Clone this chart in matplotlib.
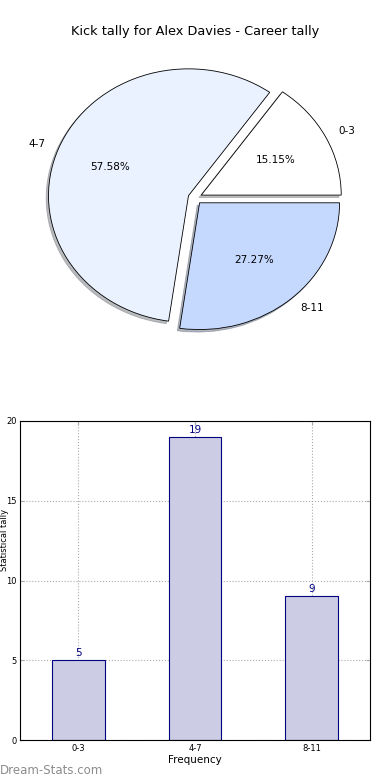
import matplotlib
matplotlib.use("Agg")
import matplotlib.pyplot as plt

categories = ["0-3", "4-7", "8-11"]
counts = [5, 19, 9]
pie_colors = ["#FFFFFF", "#EAF1FF", "#C5D9FF"]
title = "Kick tally for Alex Davies - Career tally"

plt.rcParams['font.family'] = ['DejaVu Sans']

fig = plt.figure(figsize=(3.9, 7.8), dpi=100)

# Pie chart
ax1 = fig.add_axes([20/390, 1 - 356.5/780, 350/390, 317/780])
wedges, texts, autotexts = ax1.pie(
    counts, labels=categories, colors=pie_colors, explode=[0.05]*3,
    autopct='%1.2f%%', shadow={'ox': -0.012, 'oy': -0.014, 'shade': 0.5},
    startangle=0,
    wedgeprops=dict(edgecolor='black', linewidth=0.6),
    textprops=dict(fontsize=7.5))
ax1.set_aspect('auto')
ax1.set_xlim(-1.25, 1.25)
ax1.set_ylim(-1.25, 1.25)
ax1.set_title(title, fontsize=9.3, pad=3)

# Bar chart
ax2 = fig.add_axes([20/390, 40/780, 350/390, 319/780])
x = list(range(len(categories)))
bars = ax2.bar(x, counts, width=0.45, color='#CCCCE5', edgecolor='#000080', linewidth=0.8, zorder=2)
for xi, v in zip(x, counts):
    ax2.text(xi, v + 0.15, str(v), ha='center', va='bottom', color='#000080', fontsize=7.5)
ax2.set_xlim(-0.5, 2.5)
ax2.set_ylim(0, 20)
ax2.set_xticks(x)
ax2.set_xticklabels(categories)
ax2.set_yticks([0, 5, 10, 15, 20])
ax2.tick_params(axis='both', labelsize=6, direction='in', length=3, color='#aaaaaa', top=True, right=True, pad=3)
ax2.tick_params(axis='y', pad=2.5)
ax2.grid(True, linestyle=':', color='#aaaaaa', linewidth=0.8, zorder=0)
ax2.set_axisbelow(True)
ax2.set_xlabel("Frequency", fontsize=7.5, labelpad=1)
ax2.set_ylabel("Statistical tally", fontsize=6)
ax2.yaxis.set_label_coords(-19.7/350, 0.627)
ax2.yaxis.label.set_rotation_mode('anchor')
ax2.yaxis.label.set_ha('center')
ax2.yaxis.label.set_va('top')
for s in ax2.spines.values():
    s.set_linewidth(0.8)

fig.text(0.0, 0.004, "Dream-Stats.com", fontsize=8.5, color='#8c8c8c', ha='left', va='bottom')

fig.savefig("out.png", dpi=100)
